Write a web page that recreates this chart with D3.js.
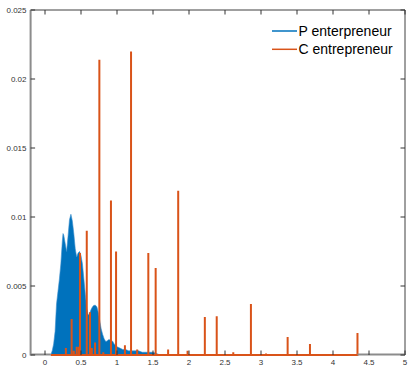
<!DOCTYPE html>
<html>
<head>
<meta charset="utf-8">
<script src="https://cdn.jsdelivr.net/npm/d3@7"></script>
<style>
  html, body { margin: 0; padding: 0; background: #fff; }
  svg { display: block; font-family: "Liberation Sans", Arial, sans-serif; }
</style>
</head>
<body>
<div id="chart"></div>
<script>
// P enterpreneur: density curve (x, y)
const pX = [0.08, 0.10, 0.12, 0.14, 0.16, 0.18, 0.20, 0.22, 0.24, 0.25, 0.26, 0.28, 0.30, 0.32, 0.34, 0.36, 0.38, 0.40,
  0.42, 0.44, 0.46, 0.48, 0.50, 0.52, 0.54, 0.56, 0.58, 0.60, 0.62, 0.64, 0.66, 0.68, 0.70, 0.72, 0.74, 0.76, 0.78,
  0.80, 0.82, 0.84, 0.86, 0.88, 0.90, 0.92, 0.94, 0.96, 0.98, 1.00, 1.04, 1.08, 1.12, 1.16, 1.20, 1.25, 1.30, 1.35,
  1.40, 1.45, 1.50, 1.55, 1.60];
const pY = [0, 0.0003, 0.0008, 0.0017, 0.0037, 0.0046, 0.0055, 0.0066, 0.0082, 0.0088, 0.0087, 0.0081, 0.0075, 0.0086,
  0.0098, 0.0102, 0.0097, 0.0088, 0.0077, 0.0071, 0.0074, 0.0075, 0.0072, 0.0066, 0.0055, 0.0044, 0.0034, 0.0029,
  0.0030, 0.0033, 0.0035, 0.0036, 0.0036, 0.0035, 0.0031, 0.0025, 0.0019, 0.0015, 0.0012, 0.0010, 0.0010, 0.0011,
  0.0011, 0.0010, 0.0010, 0.0008, 0.0007, 0.0006, 0.0005, 0.0004, 0.0004, 0.0003, 0.0003, 0.0003, 0.0003, 0.0002,
  0.0002, 0.0002, 0.0002, 0.0001, 0];

// C entrepreneur: spikes at discrete values (x, height)
const cX = [0.29, 0.37, 0.40, 0.44, 0.47, 0.486, 0.58, 0.625, 0.65, 0.695, 0.755, 0.81, 0.916, 0.987, 1.11, 1.195,
  1.28, 1.435, 1.537, 1.71, 1.85, 1.98, 2.22, 2.385, 2.615, 2.86, 3.07, 3.37, 3.68, 4.34];
const cY = [0.0005, 0.0026, 0.0003, 0.0006, 0.0006, 0.0074, 0.0090, 0.0031, 0.0005, 0.0009, 0.0214, 0.0002, 0.0112,
  0.0075, 0.0007, 0.0220, 0.0004, 0.0074, 0.0063, 0.0004, 0.0119, 0.0003, 0.00275, 0.0028, 0.0002, 0.0037, 0.0001,
  0.0013, 0.0008, 0.0016];
const cStart = 0.08, cEnd = 4.34;

const xTicks = [0, 0.5, 1, 1.5, 2, 2.5, 3, 3.5, 4, 4.5, 5];
const yTicks = [0, 0.005, 0.01, 0.015, 0.02, 0.025];
const seriesNames = ['P enterpreneur', 'C entrepreneur'];
const colors = ['#0072BD', '#D95319'];

const W = 408, H = 367;
const svg = d3.select('#chart').append('svg').attr('width', W).attr('height', H);

const x = d3.scaleLinear().domain([-0.2, 5]).range([30.6, 405]);
const y = d3.scaleLinear().domain([0, 0.025]).range([355, 10]);

// blue filled density
const pData = pX.map((v, i) => [v, pY[i]]);
svg.append('path')
  .datum(pData)
  .attr('d', d3.area().x(d => x(d[0])).y0(y(0)).y1(d => y(d[1])))
  .attr('fill', colors[0])
  .attr('stroke', '#3d8fcc')
  .attr('stroke-width', 0.6);

// orange spike line, running along the baseline
const cPts = [[cStart, 0]];
cX.forEach((v, i) => { cPts.push([v, 0], [v, cY[i]], [v, 0]); });
cPts.push([cEnd, 0]);
svg.append('path')
  .datum(cPts)
  .attr('d', d3.line().x(d => x(d[0])).y(d => y(d[1])))
  .attr('fill', 'none')
  .attr('stroke', colors[1])
  .attr('stroke-width', 2)
  .attr('stroke-linejoin', 'miter');

// box axes
const x0 = x.range()[0], x1 = x.range()[1], yb = y.range()[0], yt = y.range()[1];
svg.append('line').attr('x1', x0).attr('x2', x1).attr('y1', yt).attr('y2', yt)
  .attr('stroke', '#404040').attr('stroke-width', 1);
svg.append('line').attr('x1', x1).attr('x2', x1).attr('y1', yt).attr('y2', yb)
  .attr('stroke', '#404040').attr('stroke-width', 1);
svg.append('line').attr('x1', x0).attr('x2', x0).attr('y1', yt).attr('y2', yb + 0.5)
  .attr('stroke', '#8c8c8c').attr('stroke-width', 2);
svg.append('line').attr('x1', x0).attr('x2', x(cStart)).attr('y1', yb - 0.5).attr('y2', yb - 0.5)
  .attr('stroke', '#8c8c8c').attr('stroke-width', 2);
svg.append('line').attr('x1', x(cEnd)).attr('x2', x1).attr('y1', yb - 0.5).attr('y2', yb - 0.5)
  .attr('stroke', '#8c8c8c').attr('stroke-width', 2);

// ticks (inward, MATLAB style)
const tickLen = 4.5;
svg.append('g').selectAll('line').data(xTicks).enter().append('line')
  .attr('x1', d => x(d)).attr('x2', d => x(d)).attr('y1', yt).attr('y2', yt + tickLen)
  .attr('stroke', '#333');
svg.append('g').selectAll('line').data(xTicks).enter().append('line')
  .attr('x1', d => x(d)).attr('x2', d => x(d)).attr('y1', yb).attr('y2', yb - tickLen)
  .attr('stroke', '#333');
svg.append('g').selectAll('line').data(yTicks).enter().append('line')
  .attr('x1', x0).attr('x2', x0 + tickLen).attr('y1', d => y(d)).attr('y2', d => y(d))
  .attr('stroke', '#333');
svg.append('g').selectAll('line').data(yTicks).enter().append('line')
  .attr('x1', x1).attr('x2', x1 - tickLen).attr('y1', d => y(d)).attr('y2', d => y(d))
  .attr('stroke', '#333');

// tick labels
svg.append('g')
  .selectAll('text').data(yTicks).enter().append('text')
  .attr('x', 26.5).attr('y', d => y(d) + 3)
  .attr('text-anchor', 'end')
  .attr('font-size', 8).attr('fill', '#333')
  .text(d => d);
svg.append('g').selectAll('text').data(xTicks).enter().append('text')
  .attr('x', d => x(d)).attr('y', 365.2)
  .attr('text-anchor', 'middle')
  .attr('font-size', 8).attr('fill', '#333')
  .text(d => d);

// legend
const legend = svg.append('g').selectAll('g').data(seriesNames).enter().append('g')
  .attr('transform', (d, i) => `translate(0, ${31 + i * 18.3})`);
legend.append('line').attr('x1', 272).attr('x2', 297).attr('y1', 0).attr('y2', 0)
  .attr('stroke', (d, i) => colors[i]).attr('stroke-width', 1.5);
legend.append('text').attr('x', 298.5).attr('y', 4.5)
  .attr('font-size', 14).attr('fill', '#000')
  .text(d => d);
</script>
</body>
</html>
